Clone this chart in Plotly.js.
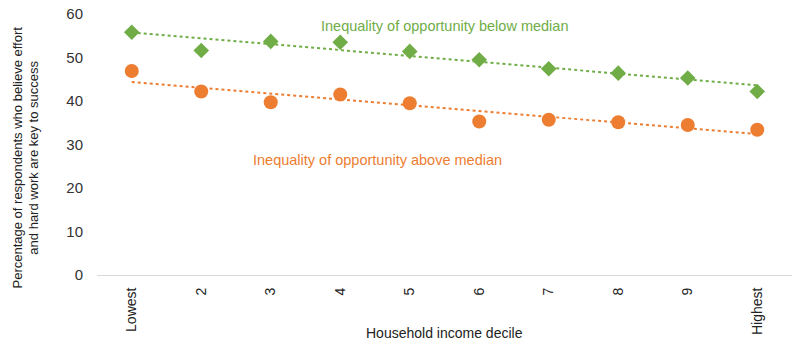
<!DOCTYPE html>
<html><head><meta charset="utf-8">
<script src="https://cdn.plot.ly/plotly-3.0.1.min.js"></script>
<style>html,body{margin:0;padding:0;background:#fff}#c{width:800px;height:352px}</style>
</head><body><div id="c"></div>
<script>
const categories = ["Lowest","2","3","4","5","6","7","8","9","Highest"];
const belowMedian = [55.8,51.6,53.7,53.5,51.4,49.5,47.4,46.4,45.3,42.2];
const aboveMedian = [46.9,42.2,39.7,41.5,39.5,35.3,35.7,35.1,34.5,33.4];
const labelBelow = "Inequality of opportunity below median";
const labelAbove = "Inequality of opportunity above median";
const xTitle = "Household income decile";
const yTitle = "Percentage of respondents who believe effort<br>and hard work are key to success";

function trend(vals){
  const n = vals.length, xs = vals.map((_,i)=>i);
  const mx = xs.reduce((a,b)=>a+b,0)/n, my = vals.reduce((a,b)=>a+b,0)/n;
  let sxy=0, sxx=0;
  xs.forEach((x,i)=>{sxy+=(x-mx)*(vals[i]-my); sxx+=(x-mx)*(x-mx);});
  const b = sxy/sxx, a = my - b*mx;
  return xs.map(x=>a+b*x);
}
const green = "#70AD47", orange = "#ED7D31";
const font = "Liberation Sans, Arial, sans-serif";
const traces = [
  {x:categories, y:trend(belowMedian), mode:"lines", line:{color:green, dash:"dot", width:2}, hoverinfo:"skip"},
  {x:categories, y:trend(aboveMedian), mode:"lines", line:{color:orange, dash:"dot", width:2}, hoverinfo:"skip"},
  {x:categories, y:belowMedian, mode:"markers", name:labelBelow, marker:{symbol:"diamond", size:12, color:green}},
  {x:categories, y:aboveMedian, mode:"markers", name:labelAbove, marker:{symbol:"circle", size:14, color:orange}}
];
const L=97, R=8, T=14, B=77, W=800, H=352;
const pw = W-L-R, ph = H-T-B;
const layout = {
  width:W, height:H, showlegend:false,
  margin:{l:L, r:R, t:T, b:B, autoexpand:false},
  paper_bgcolor:"#fff", plot_bgcolor:"#fff",
  font:{family:font, color:"#222"},
  xaxis:{type:"category", range:[-0.5, categories.length-0.5], automargin:false, tickangle:-90, showgrid:false, showline:true, linecolor:"#d9d9d9", linewidth:1,
    ticks:"outside", ticklen:6, tickcolor:"rgba(0,0,0,0)", tickfont:{size:14, color:"#222"}},
  yaxis:{range:[0,60], dtick:10, automargin:false, showgrid:false, zeroline:false, showline:false,
    ticks:"outside", ticklen:10, tickcolor:"rgba(0,0,0,0)", tickfont:{size:15, color:"#333"}},
  annotations:[
    {xref:"paper", yref:"y", x:(445-L)/pw, y:57.3, text:labelBelow, showarrow:false, font:{size:14.5, color:green, family:font}, xanchor:"center"},
    {xref:"paper", yref:"y", x:(377-L)/pw, y:26.5, text:labelAbove, showarrow:false, font:{size:14.5, color:orange, family:font}, xanchor:"center"},
    {xref:"paper", yref:"paper", x:(445-L)/pw, y:-(333-T-ph)/ph, text:xTitle, showarrow:false, font:{size:14, color:"#222", family:font}, xanchor:"center", yanchor:"middle"},
    {xref:"paper", yref:"paper", x:-(L-25.5)/pw, y:(T+ph-158)/ph, text:yTitle, textangle:-90, showarrow:false, font:{size:13, color:"#222", family:font}, xanchor:"center", yanchor:"middle"}
  ]
};
Plotly.newPlot("c", traces, layout, {displayModeBar:false, staticPlot:true});
</script></body></html>
